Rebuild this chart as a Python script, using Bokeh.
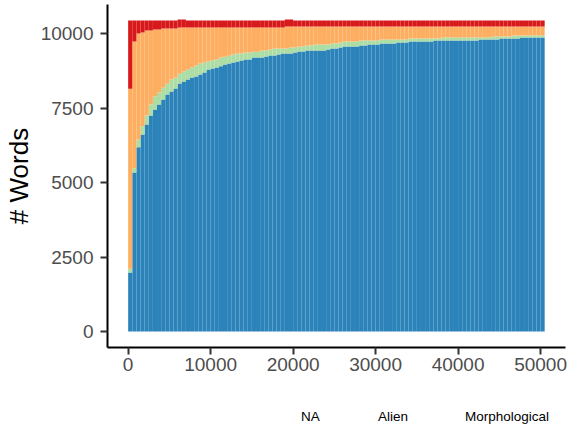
from bokeh.plotting import figure
from bokeh.layouts import column
from bokeh.models import ColumnDataSource, Range1d, FixedTicker, Legend, LegendItem
from bokeh.embed import file_html
from bokeh.resources import INLINE

# ---- data ----
bin_width = 500
x_centers = [250 + bin_width * i for i in range(101)]

vocab = [1982, 5345, 6193, 6618, 6954, 7256, 7458, 7626, 7794, 7962,
         8063, 8163, 8331, 8398, 8465, 8533, 8570, 8634, 8700, 8802,
         8835, 8869, 8914, 8970, 9003, 9037, 9070, 9104, 9138, 9138,
         9205, 9205, 9205, 9239, 9272, 9272, 9306, 9339, 9339, 9339,
         9373, 9406, 9406, 9440, 9440, 9440, 9440, 9440, 9474, 9507,
         9507, 9541, 9574, 9574, 9574, 9574, 9608, 9608, 9642, 9642,
         9642, 9675, 9675, 9675, 9675, 9709, 9709, 9709, 9742, 9742,
         9742, 9742, 9742, 9742, 9776, 9776, 9776, 9776, 9776, 9776,
         9776, 9776, 9776, 9776, 9776, 9810, 9810, 9810, 9810, 9810,
         9843, 9843, 9843, 9843, 9843, 9877, 9877, 9877, 9877, 9877, 9877]

morphological = [124, 142, 257, 279, 302, 370, 436, 403, 392, 358,
                 402, 359, 325, 336, 336, 335, 366, 369, 340, 274,
                 280, 269, 291, 257, 258, 269, 269, 235, 235, 235,
                 190, 190, 235, 201, 202, 235, 201, 168, 168, 202,
                 168, 168, 168, 168, 168, 202, 202, 202, 168, 168,
                 168, 168, 168, 168, 168, 168, 168, 168, 134, 134,
                 134, 135, 135, 135, 135, 101, 101, 101, 101, 101,
                 101, 101, 101, 101, 67, 67, 101, 101, 101, 101,
                 101, 101, 101, 101, 101, 67, 67, 67, 100, 100,
                 67, 67, 67, 101, 101, 67, 67, 67, 67, 67, 67]

alien = [6047, 4255, 3561, 3148, 2856, 2486, 2251, 2116, 1993, 1859,
         1714, 1657, 1556, 1478, 1411, 1344, 1276, 1209, 1172, 1136,
         1097, 1074, 1007, 985, 951, 906, 873, 873, 839, 839,
         817, 817, 772, 772, 738, 705, 705, 705, 739, 705,
         705, 672, 672, 638, 638, 604, 604, 604, 604, 571,
         571, 537, 504, 504, 504, 504, 470, 470, 470, 470,
         470, 436, 436, 436, 436, 436, 436, 436, 403, 403,
         403, 403, 403, 403, 403, 403, 369, 369, 369, 369,
         369, 369, 369, 369, 369, 369, 369, 369, 336, 336,
         336, 336, 336, 302, 302, 302, 302, 302, 302, 302, 302]

na = [2294, 705, 436, 402, 335, 335, 302, 302, 268, 268,
      268, 268, 269, 269, 235, 235, 235, 235, 235, 235,
      235, 235, 235, 235, 235, 235, 235, 235, 235, 235,
      235, 235, 235, 235, 235, 235, 235, 235, 235, 235] + [201] * 61

categories = ["Vocab", "Morphological", "Alien", "NA"]
colors = ["#2B83BA", "#ABDDA4", "#FDAE61", "#D7191C"]
legend_order = ["NA", "Alien", "Morphological", "Vocab"]
x_ticks = [0, 10000, 20000, 30000, 40000, 50000]
y_ticks = [0, 2500, 5000, 7500, 10000]

source = ColumnDataSource(data=dict(x=x_centers, Vocab=vocab, Morphological=morphological,
                                    Alien=alien, NA=na))

FONT = "Liberation Sans"

# ---- main chart ----
p = figure(width=571, height=393,
           min_border_left=106, min_border_right=6, min_border_top=4, min_border_bottom=46,
           x_range=Range1d(-2504, 53025), y_range=Range1d(-537, 10985),
           output_backend="svg", toolbar_location=None)

p.vbar_stack(categories, x="x", width=bin_width, color=colors,
             line_color=None, source=source)

p.xgrid.visible = False
p.ygrid.visible = False
p.outline_line_color = None
p.background_fill_color = "white"
p.border_fill_color = "white"

for ax in (p.xaxis[0], p.yaxis[0]):
    ax.axis_line_color = "black"
    ax.axis_line_width = 2
    ax.major_tick_line_color = "#333333"
    ax.major_tick_line_width = 2
    ax.major_tick_out = 7
    ax.major_tick_in = 0
    ax.minor_tick_line_color = None
    ax.major_label_text_font = FONT
    ax.major_label_text_font_size = "19px"
    ax.major_label_text_color = "#4D4D4D"

p.xaxis[0].ticker = FixedTicker(ticks=x_ticks)
p.yaxis[0].ticker = FixedTicker(ticks=y_ticks)
p.xaxis[0].major_label_standoff = 3
p.yaxis[0].major_label_standoff = 7

p.yaxis[0].axis_label = "# Words"
p.yaxis[0].axis_label_text_font = FONT
p.yaxis[0].axis_label_text_font_size = "26px"
p.yaxis[0].axis_label_text_font_style = "normal"
p.yaxis[0].axis_label_text_color = "black"
p.yaxis[0].axis_label_standoff = 4

# ---- legend strip below the chart ----
lg = figure(width=571, height=34, min_border_left=0, min_border_right=0,
            min_border_top=0, min_border_bottom=0,
            x_range=Range1d(0, 1), y_range=Range1d(0, 1),
            x_axis_location=None, y_axis_location=None,
            output_backend="svg", toolbar_location=None)
lg.xgrid.visible = False
lg.ygrid.visible = False
lg.outline_line_color = None
lg.background_fill_color = "white"
lg.border_fill_color = "white"

legend_src = ColumnDataSource(data=dict(x=[], top=[]))
legend_renderers = {}
for c, col in zip(categories, colors):
    legend_renderers[c] = lg.vbar(x="x", top="top", width=0.1, source=legend_src,
                                  fill_color=col, line_color=None)

legend = Legend(items=[LegendItem(label=c, renderers=[legend_renderers[c]]) for c in legend_order],
                orientation="horizontal", location=(139, 0),
                label_text_font=FONT, label_text_font_size="13.5px", label_text_color="black",
                glyph_width=54, glyph_height=21, label_height=21, label_standoff=1, spacing=2,
                padding=0, margin=0, border_line_color=None, background_fill_alpha=0)
lg.add_layout(legend)

layout = column(p, lg, spacing=0)

open("out.html", "w").write(file_html(layout, INLINE))
